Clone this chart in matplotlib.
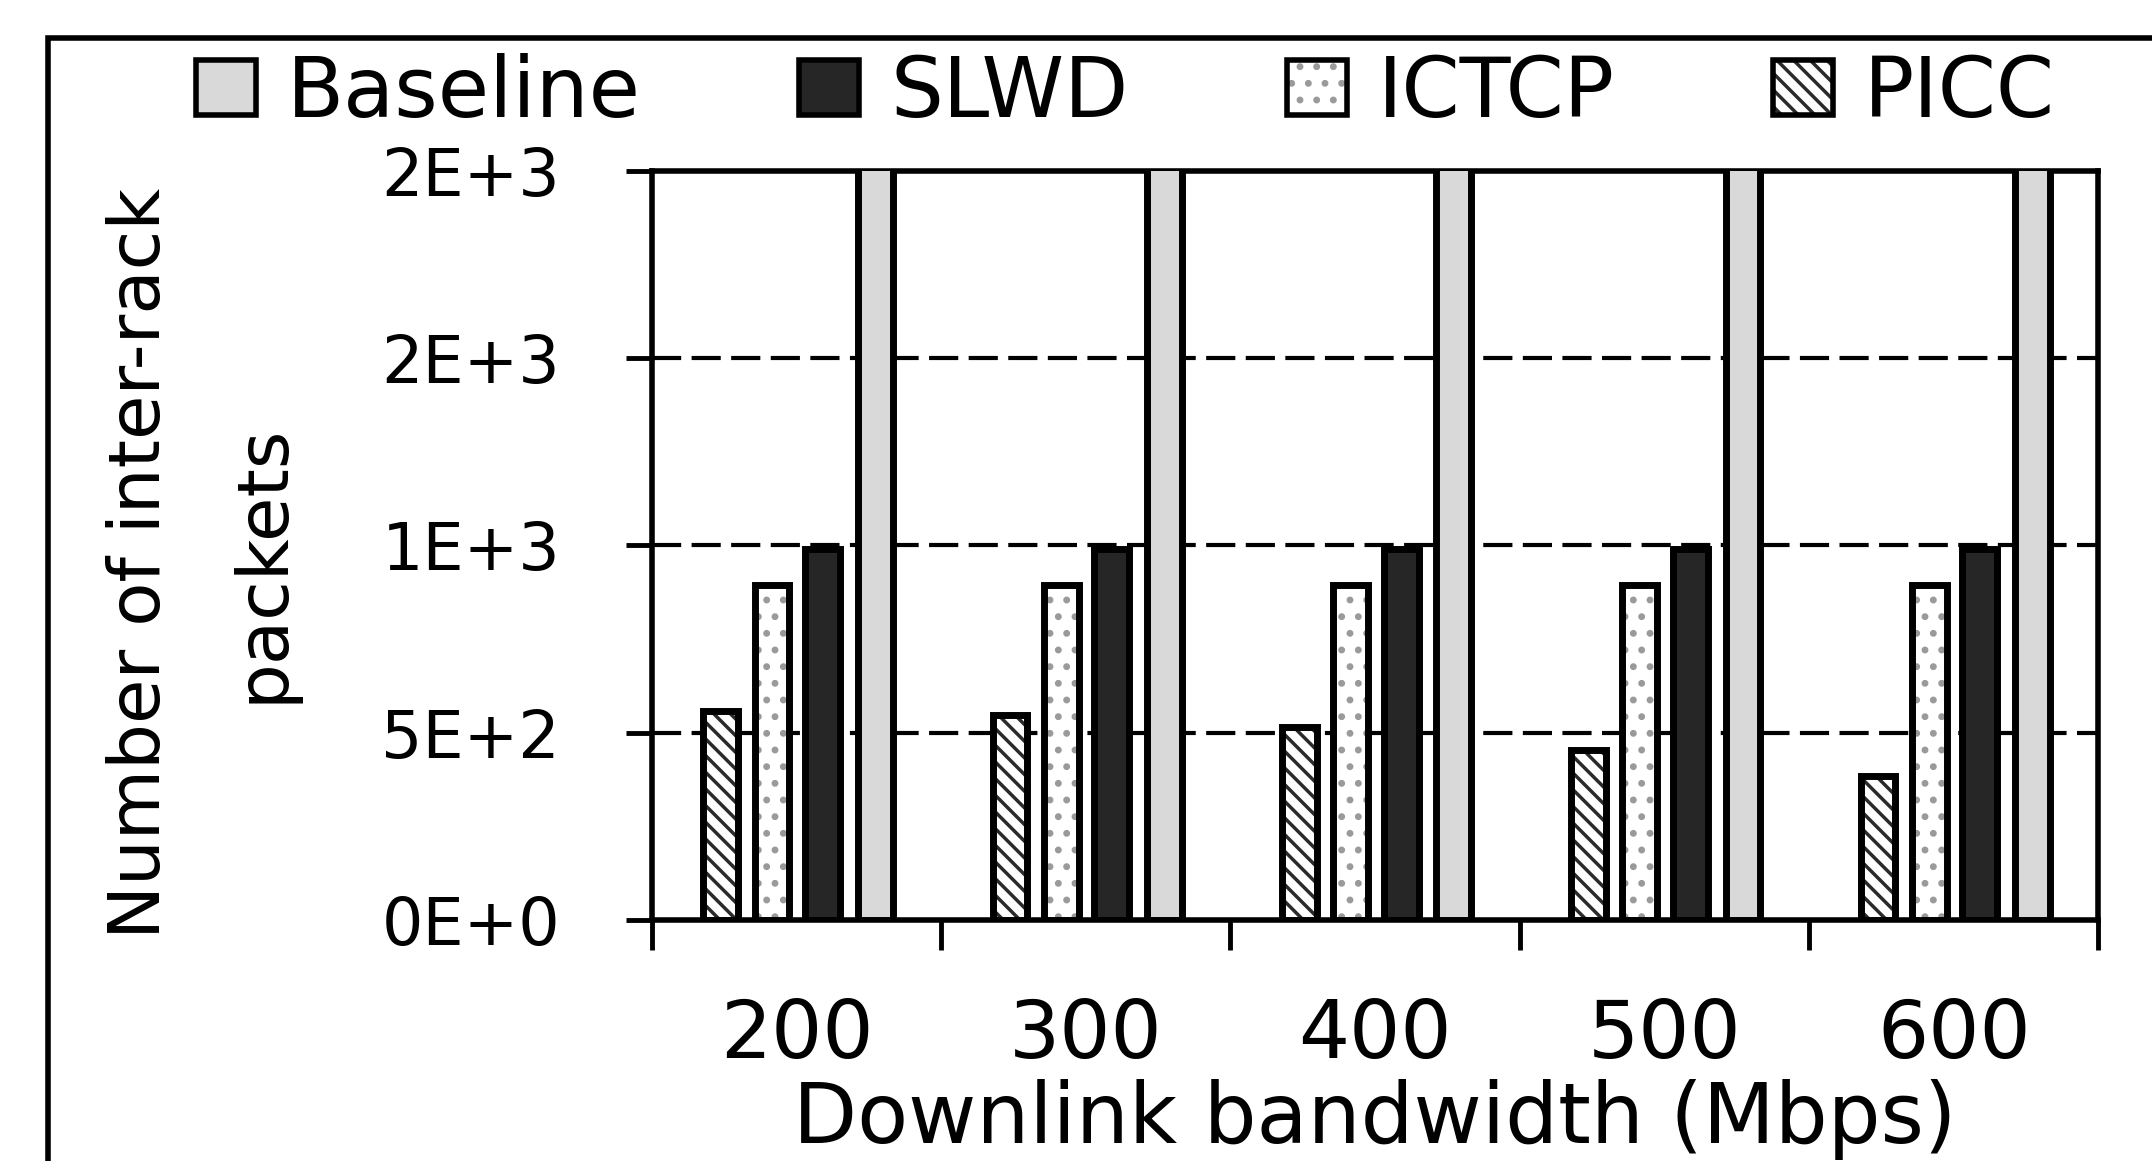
import numpy as np
import matplotlib
matplotlib.use("Agg")
import matplotlib.pyplot as plt
from matplotlib.patches import Patch, Rectangle

# data
bandwidth = ["200", "300", "400", "500", "600"]
series = ["Baseline", "SLWD", "ICTCP", "PICC"]
baseline = [2100, 2100, 2100, 2100, 2100]   # off the top of the chart
slwd = [991, 991, 991, 991, 991]
ictcp = [895, 895, 895, 895, 895]
picc = [558, 548, 514, 452, 383]
yticks = [0, 500, 1000, 1500, 2000]
ytick_labels = ["0E+0", "5E+2", "1E+3", "2E+3", "2E+3"]

plt.rcParams['font.family'] = ['DejaVu Sans']
plt.rcParams['hatch.linewidth'] = 2.5

fig = plt.figure(figsize=(21.52, 11.61), dpi=100)
ax = fig.add_axes([0.3029, 0.208, 0.6722, 0.6443])

x = np.arange(len(bandwidth))
w = 0.12
lw = 5

# PICC - diagonal hatch
ax.bar(x + 0.238, picc, w, color='white', edgecolor='#2a2a2a', hatch='\\\\', linewidth=0, zorder=3)
ax.bar(x + 0.238, picc, w, fill=False, edgecolor='black', linewidth=lw, zorder=4)
# ICTCP - dotted
ax.bar(x + 0.415, ictcp, w, color='white', edgecolor='#9a9a9a', hatch='.', linewidth=0, zorder=3)
ax.bar(x + 0.415, ictcp, w, fill=False, edgecolor='black', linewidth=lw, zorder=4)
# SLWD
ax.bar(x + 0.59, slwd, w, color='#262626', edgecolor='black', linewidth=lw, zorder=4)
# Baseline
ax.bar(x + 0.772, baseline, w, color='#d9d9d9', edgecolor='black', linewidth=lw, zorder=4)

ax.set_xlim(0, len(bandwidth))
ax.set_ylim(0, 2000)

for v in yticks[1:-1]:
    ax.axhline(v, color='black', lw=3, dashes=(7, 2.5), zorder=1)

ax.set_yticks(yticks)
ax.set_yticklabels(ytick_labels)
ax.tick_params(axis='y', length=19, width=3.5, pad=47, labelsize=47, direction='out')

ax.set_xticks(x + 0.5)
ax.set_xticklabels(bandwidth)
ax.set_xticks(np.arange(len(bandwidth) + 1), minor=True)
ax.tick_params(axis='x', which='major', length=0, pad=56, labelsize=58)
ax.tick_params(axis='x', which='minor', length=21.6, width=3.5, direction='out')

for s in ax.spines.values():
    s.set_linewidth(4)
    s.set_color('black')

fig.text(1375 / 2152, 1 - 1120 / 1161, "Downlink bandwidth (Mbps)", ha='center', va='center', fontsize=60)
fig.text(202 / 2152, 1 - 563 / 1161, "Number of inter-rack\npackets", rotation=90,
         ha='center', va='center', multialignment='center', fontsize=52, linespacing=2.0)

# legend
h_base = Patch(facecolor='#d9d9d9', edgecolor='black', linewidth=4)
h_slwd = Patch(facecolor='#262626', edgecolor='black', linewidth=4)
h_ict = (Patch(facecolor='white', edgecolor='#9a9a9a', hatch='.', linewidth=0),
         Patch(fill=False, edgecolor='black', linewidth=4))
h_picc = (Patch(facecolor='white', edgecolor='#2a2a2a', hatch='\\\\', linewidth=0),
          Patch(fill=False, edgecolor='black', linewidth=4))
fig.legend([h_base, h_slwd, h_ict, h_picc], series, ncol=4, frameon=False,
           loc='center left', bbox_to_anchor=(196 / 2152, 1 - 93 / 1161),
           fontsize=60, handlelength=0.72, handleheight=0.64, handletextpad=0.37,
           columnspacing=1.9, borderpad=0, borderaxespad=0)

# outer frame
fig.patches.append(Rectangle((48 / 2152, -0.2), 1.2, 1 - 38 / 1161 + 0.2, transform=fig.transFigure,
                             fill=False, edgecolor='black', linewidth=4, clip_on=False))

fig.savefig('out.png', dpi=100)
